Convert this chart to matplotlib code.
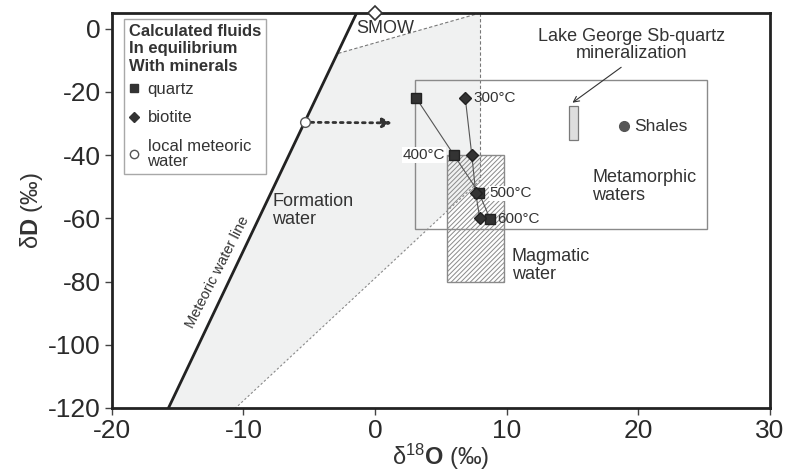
import matplotlib
matplotlib.use("Agg")
import matplotlib.pyplot as plt
from matplotlib.patches import Polygon, Rectangle
from matplotlib.lines import Line2D

plt.rcParams['font.family'] = ['Liberation Sans', 'DejaVu Sans']
plt.rcParams['mathtext.fontset'] = 'custom'
plt.rcParams['mathtext.rm'] = 'Liberation Sans'
plt.rcParams['mathtext.bf'] = 'Liberation Sans:bold'
plt.rcParams['mathtext.default'] = 'regular'
plt.rcParams['axes.unicode_minus'] = False
plt.rcParams['hatch.linewidth'] = 0.7

# meteoric water line and formation-water field (d18O, dD)
mwl_x = [-15.7, -1.4]
mwl_y = [-120, 5]
formation_x = [-15.7, -2.8, 8.0, 8.0, -10.6]
formation_y = [-120, -7.8, 5, -47.9, -120]

# boxes: (x0, x1, y0, y1)
metamorphic_box = (3.0, 25.2, -63.5, -16.3)
magmatic_box = (5.5, 9.8, -80, -40)
lake_george_box = (14.7, 15.4, -35.3, -24.5)

# calculated fluids
temps = ['300°C', '400°C', '500°C', '600°C']
quartz_x = [3.1, 6.0, 7.9, 8.75]
quartz_y = [-21.8, -40, -52, -60.3]
biotite_x = [6.85, 7.35, 7.65, 7.95]
biotite_y = [-21.8, -40, -52, -60]

meteoric_pt = (-5.3, -29.6)
arrow_end = (1.3, -29.8)
smow = (0, 5)
shales = (18.9, -30.9)

dark = '#333333'

fig = plt.figure(figsize=(7.88, 4.72), dpi=100)
ax = fig.add_axes([0.142, 0.1356, 0.835, 0.837])
ax.set_xlim(-20, 30)
ax.set_ylim(-120, 5)

# formation water field
ax.add_patch(Polygon(list(zip(formation_x, formation_y)), closed=True,
                     facecolor='#f0f1f1', edgecolor='none', zorder=0.5))
ax.plot([formation_x[1], formation_x[2]], [formation_y[1], formation_y[2]],
        ls=(0, (3, 2)), lw=0.8, color='#777777', zorder=1)
ax.plot([formation_x[2], formation_x[3]], [formation_y[2], formation_y[3]],
        ls=(0, (3, 2)), lw=0.8, color='#777777', zorder=1)
ax.plot([formation_x[3], formation_x[4]], [formation_y[3], formation_y[4]],
        ls=(0, (2, 2)), lw=0.8, color='#888888', zorder=1)

# meteoric water line
ax.plot(mwl_x, mwl_y, color='#222222', lw=2, zorder=3)

# metamorphic and magmatic fields
x0, x1, y0, y1 = metamorphic_box
ax.add_patch(Rectangle((x0, y0), x1 - x0, y1 - y0, facecolor='none',
                       edgecolor='#8a8a8a', lw=1, zorder=2))
x0, x1, y0, y1 = magmatic_box
ax.add_patch(Rectangle((x0, y0), x1 - x0, y1 - y0, facecolor='none',
                       edgecolor='#8a8a8a', hatch='///////', lw=1, zorder=2))
x0, x1, y0, y1 = lake_george_box
ax.add_patch(Rectangle((x0, y0), x1 - x0, y1 - y0, facecolor='#dedede',
                       edgecolor='#7a7a7a', lw=0.9, zorder=3))

# quartz / biotite fluids
ax.plot(quartz_x, quartz_y, color='#555555', lw=0.8, zorder=4)
ax.plot(biotite_x, biotite_y, color='#555555', lw=0.8, zorder=4)
ax.plot(quartz_x, quartz_y, ls='none', marker='s', ms=7, color=dark,
        mec='#222222', zorder=5)
ax.plot(biotite_x, biotite_y, ls='none', marker='D', ms=6, color=dark,
        mec='#222222', zorder=5)

lab_kw = dict(fontsize=11, color=dark, va='center', zorder=6)
ax.text(biotite_x[0] + 0.6, biotite_y[0], temps[0], ha='left', **lab_kw)
ax.text(quartz_x[1] - 0.7, quartz_y[1], temps[1], ha='right',
        bbox=dict(facecolor='white', edgecolor='none', pad=0.5), **lab_kw)
ax.text(quartz_x[2] + 0.8, quartz_y[2], temps[2], ha='left',
        bbox=dict(facecolor='white', edgecolor='none', pad=0.3), **lab_kw)
ax.text(quartz_x[3] + 0.5, quartz_y[3], temps[3], ha='left', **lab_kw)

# local meteoric water and shift arrow
ax.annotate('', xy=arrow_end, xytext=meteoric_pt,
            arrowprops=dict(arrowstyle='-|>', ls=':', lw=2, color=dark,
                            mutation_scale=14, shrinkA=4, shrinkB=0), zorder=4)
ax.plot(*meteoric_pt, marker='o', ms=7, mfc='white', mec='#555555', zorder=5)

# SMOW and shales
ax.plot(*smow, marker='D', ms=7, mfc='white', mec=dark, mew=1.2,
        clip_on=False, zorder=7)
ax.text(-1.4, 0, 'SMOW', fontsize=13, color=dark, ha='left', va='center')
ax.plot(*shales, marker='o', ms=7, color='#555555', zorder=5)
ax.text(shales[0] + 0.8, shales[1], 'Shales', fontsize=12.5, color=dark,
        ha='left', va='center')

# Lake George label and pointer
ax.text(19.5, -5.2, 'Lake George Sb-quartz\nmineralization', ha='center',
        va='center', fontsize=13, color=dark, linespacing=1.05)
ax.annotate('', xy=(15.0, -23.4), xytext=(18.7, -12.2),
            arrowprops=dict(arrowstyle='->', lw=0.8, color=dark,
                            shrinkA=0, shrinkB=0))

txt_kw = dict(fontsize=13, color=dark, ha='left', va='center', linespacing=1.05)
ax.text(16.5, -50, 'Metamorphic\nwaters', **txt_kw)
ax.text(10.4, -75, 'Magmatic\nwater', **txt_kw)
ax.text(-7.8, -57.6, 'Formation\nwater', **txt_kw)
ax.text(-12.0, -77, 'Meteoric water line', fontsize=10.5, color=dark,
        rotation=63, ha='center', va='center', rotation_mode='anchor')

# legend
handles = [
    Line2D([], [], ls='none', marker='s', ms=6, color=dark),
    Line2D([], [], ls='none', marker='D', ms=5.5, color=dark),
    Line2D([], [], ls='none', marker='o', ms=6, mfc='white', mec='#555555'),
]
leg = ax.legend(handles, ['quartz', 'biotite', 'local meteoric\nwater'],
                title='Calculated fluids\nIn equilibrium\nWith minerals',
                loc='upper left', bbox_to_anchor=(0.006, 1.006),
                fontsize=12, title_fontsize=12, alignment='left',
                handlelength=0.6, handletextpad=0.5, labelspacing=0.8,
                borderpad=0.3, frameon=True, fancybox=False,
                edgecolor='#a8a8a8', framealpha=1)
leg.get_title().set_fontweight('bold')
leg.get_title().set_color(dark)
leg._legend_box.sep = 6  # tighter gap under the title
for t in leg.get_texts():
    t.set_color(dark)
    t.set_linespacing(1.05)

# axes styling
for s in ax.spines.values():
    s.set_linewidth(2)
    s.set_color('#222222')
ax.set_xticks([-20, -10, 0, 10, 20, 30])
ax.set_yticks([0, -20, -40, -60, -80, -100, -120])
ax.tick_params(direction='out', length=5, width=1, color='#444444',
               labelsize=19, labelcolor='#2a2a2a', pad=3)
ax.set_xlabel('δ$^{18}$$\\mathbf{O}$ (‰)', fontsize=17, color=dark, labelpad=-1)
ax.set_ylabel('δ$\\mathbf{D}$ (‰)', fontsize=17, color=dark, labelpad=2)

fig.savefig('out.png', dpi=100)
